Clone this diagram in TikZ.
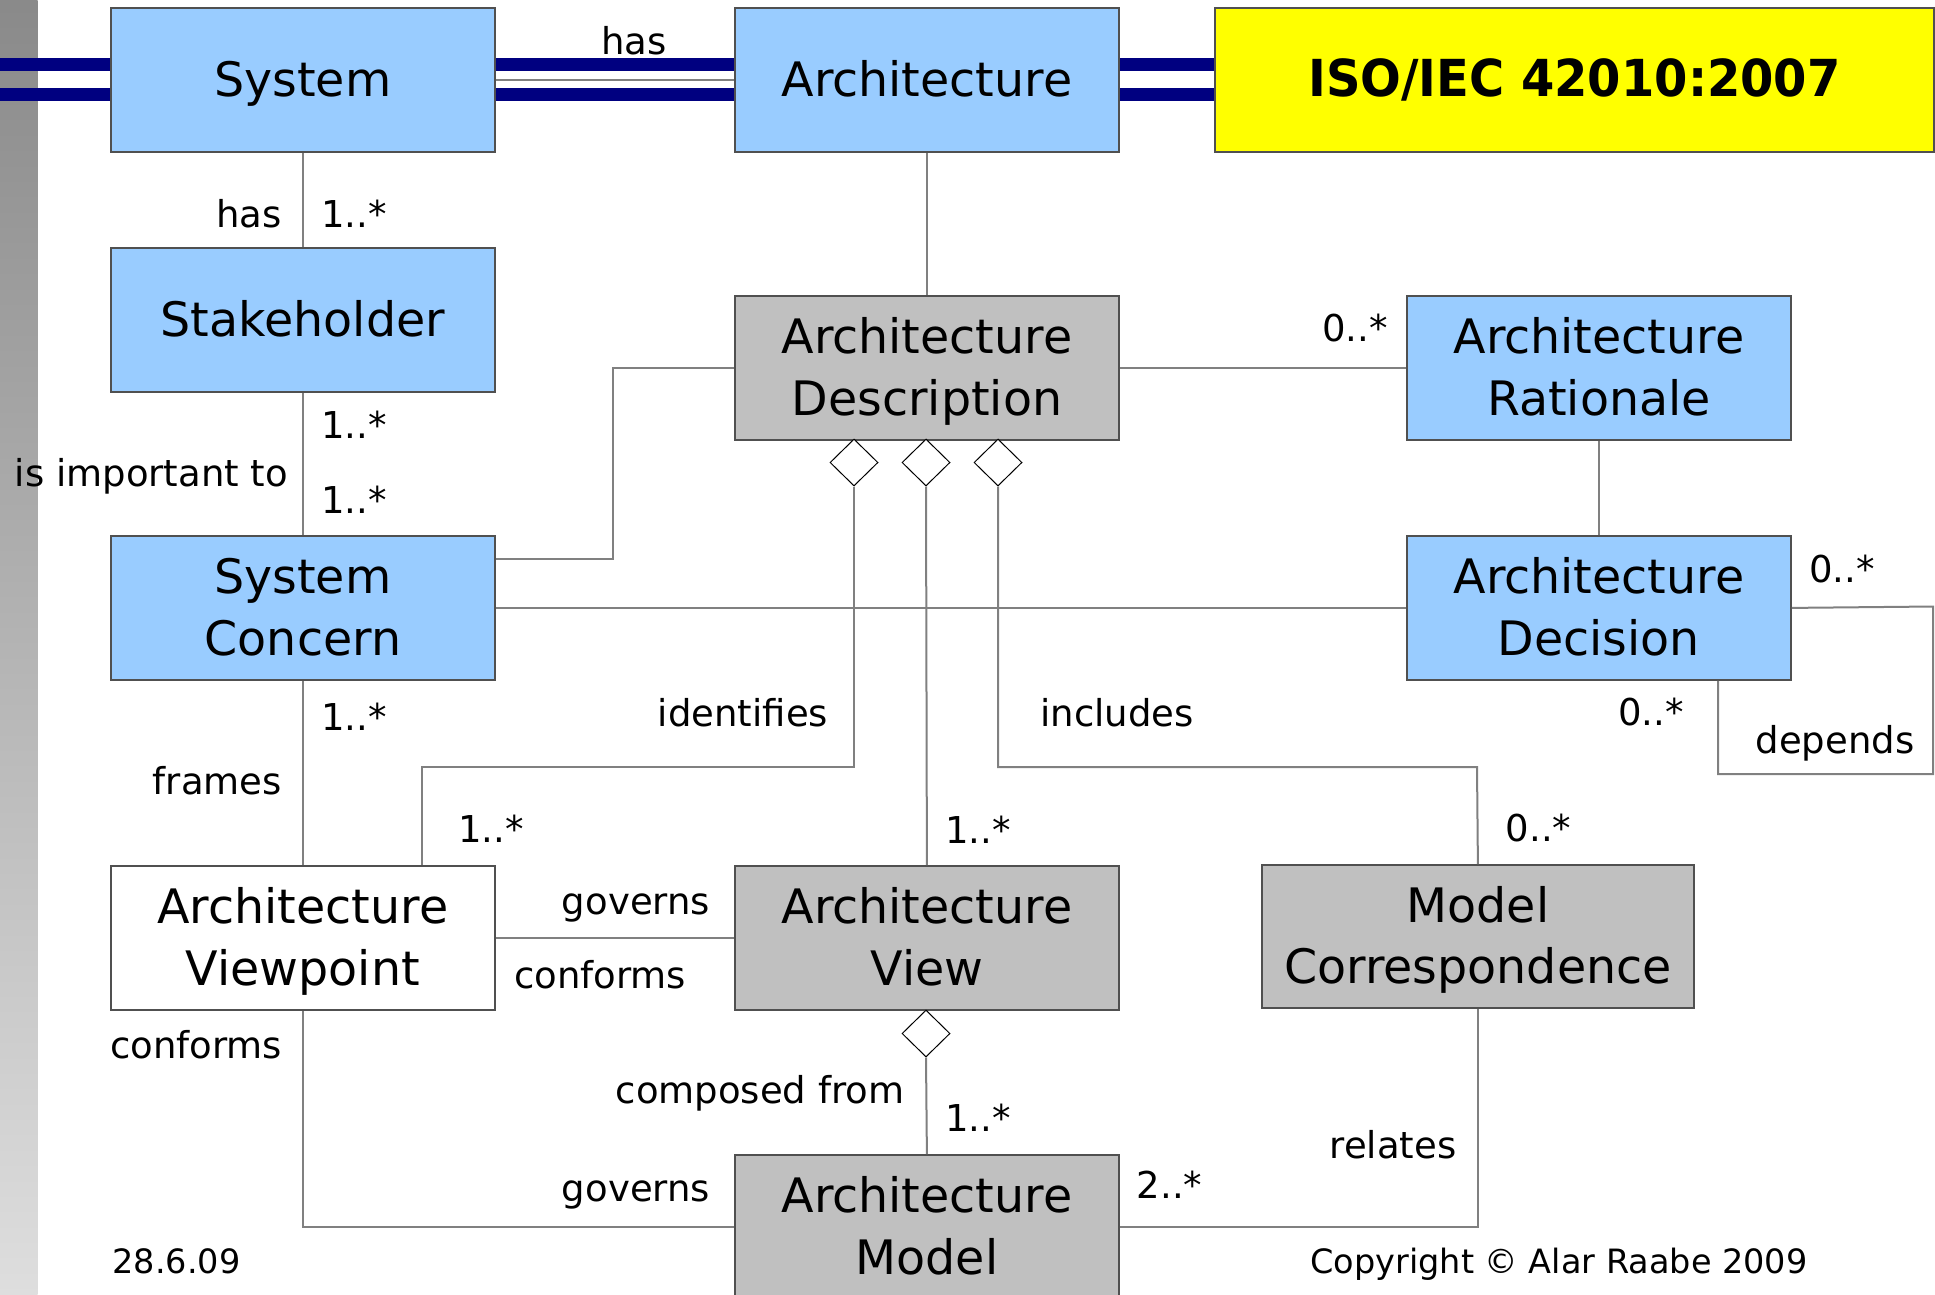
\documentclass[tikz,border=0pt]{standalone}
\usepackage{fontspec}
\usepackage{graphicx}
\setmainfont{DejaVu Sans}
\usetikzlibrary{shapes.geometric}

\definecolor{boxblue}{HTML}{99CCFF}
\definecolor{boxgray}{HTML}{C0C0C0}
\definecolor{isoyellow}{HTML}{FFFF00}
\definecolor{barnavy}{HTML}{000080}
\definecolor{edgegray}{HTML}{505050}
\definecolor{linkgray}{HTML}{808080}

% uniform line height for class names
\newcommand\clsln{\rule[-0.25em]{0pt}{1.19em}}

\tikzset{
  classbox/.style={draw=edgegray, line width=1.8pt, minimum width=384pt,
    minimum height=144pt, inner sep=0pt, align=center, anchor=north west,
    font=\fontsize{47.5}{61.5}\selectfont},
  bluebox/.style={classbox, fill=boxblue},
  graybox/.style={classbox, fill=boxgray},
  whitebox/.style={classbox, fill=white},
  isobox/.style={classbox, fill=isoyellow, minimum width=719pt},
  link/.style={draw=linkgray, line width=2pt},
  navyline/.style={draw=barnavy, line width=13pt},
  agg/.style={diamond, draw=black, fill=white, line width=1pt, inner sep=0pt,
    minimum width=48pt, minimum height=47pt, anchor=north},
  lbl/.style={inner sep=0pt, text height=0.73em, text depth=0pt,
    font=\fontsize{37}{44}\selectfont},
  foot/.style={inner sep=0pt, text height=0.73em, text depth=0pt,
    font=\fontsize{33.5}{40}\selectfont},
}

\begin{document}
\begin{tikzpicture}[x=1pt, y=-1pt]
\useasboundingbox (0,0) rectangle (1935,1294);
\clip (0,0) rectangle (1935,1294);
\fill[white] (0,0) rectangle (1935,1294);

% grey side band
\shade[top color=black!46, bottom color=black!13] (0,0) rectangle (37.5,1294);

% double navy header rule
\draw[navyline] (0,64.5) -- (1214,64.5);
\draw[navyline] (0,94.7) -- (1214,94.7);

% classes
\node[bluebox] (sys) at (110,7) {\clsln System};
\node[bluebox] (arch) at (734,7) {\clsln Architecture};
\node[isobox] (iso) at (1214,7) {\scalebox{0.94}[1]{\fontsize{51}{60}\selectfont\bfseries ISO/IEC 42010:2007}};
\node[bluebox] (stk) at (110,247) {\clsln Stakeholder};
\node[graybox] (ad) at (734,295) {\clsln Architecture\\\clsln Description};
\node[bluebox] (ar) at (1406,295) {\clsln Architecture\\\clsln Rationale};
\node[bluebox] (sc) at (110,535) {\clsln System\\\clsln Concern};
\node[bluebox] (dec) at (1406,535) {\clsln Architecture\\\clsln Decision};
\node[whitebox] (avp) at (110,865) {\clsln Architecture\\\clsln Viewpoint};
\node[graybox] (av) at (734,865) {\clsln Architecture\\\clsln View};
\node[graybox, minimum width=432pt, minimum height=143pt] (mc) at (1261,864) {\clsln Model\\\clsln Correspondence};
\node[graybox] (am) at (734,1154) {\clsln Architecture\\\clsln Model};

% aggregation diamonds
\node[agg] (d1) at (854,438.5) {};
\node[agg] (d2) at (926,438.5) {};
\node[agg] (d3) at (998,438.5) {};
\node[agg] (d4) at (926,1009.5) {};

% bend points
\coordinate (j1) at (613,559);
\coordinate (j2) at (422,767);
\coordinate (j3) at (1477,767);
\coordinate (l1) at (1933,606.5);
\coordinate (l2) at (1718,774);

% associations
\draw[link] (sys.east) -- (arch.west);
\draw[link] (sys.south) -- (stk.north);
\draw[link] (arch.south) -- (ad.north);
\draw[link] (stk.south) -- (sc.north);
\draw[link] (ad.west) -| (j1) -- (sc.east |- j1);
\draw[link] (ad.east) -- (ar.west);
\draw[link] (ar.south) -- (dec.north);
\draw[link] (sc.east) -- (dec.west);
\draw[link] (dec.east) -- (l1) |- (l2) -- (l2 |- dec.south);
\draw[link] (sc.south) -- (avp.north);
\draw[link] (d1.south) |- (j2) -- (j2 |- avp.north);
\draw[link] (d2.south) -- (av.north);
\draw[link] (d3.south) |- (j3) -- (mc.north);
\draw[link] (avp.east) -- (av.west);
\draw[link] (d4.south) -- (am.north);
\draw[link] (avp.south) |- (am.west);
\draw[link] (am.east) -| (mc.south);

% role names and multiplicities
\node[lbl] (t1) at (634,51) {has};
\node[lbl, anchor=east] (t2) at (282,223.5) {has};
\node[lbl, anchor=west] (t3) at (321,223.5) {1..*};
\node[lbl, anchor=west] (t4) at (321,434.5) {1..*};
\node[lbl] (t5) at (151.5,482.6) {is important to};
\node[lbl, anchor=west] (t6) at (321,510) {1..*};
\node[lbl, anchor=west] (t7) at (1322,338) {0..*};
\node[lbl, anchor=west] (t8) at (1809,579) {0..*};
\node[lbl, anchor=west] (t9) at (1618,722) {0..*};
\node[lbl] (t10) at (1835,750) {depends};
\node[lbl, anchor=west] (t11) at (321,727) {1..*};
\node[lbl, anchor=east] (t12) at (282,791) {frames};
\node[lbl] (t13) at (743,723) {identifies};
\node[lbl, anchor=west] (t14) at (458,839) {1..*};
\node[lbl] (t15) at (1117,723) {includes};
\node[lbl, anchor=west] (t16) at (1505.5,838) {0..*};
\node[lbl, anchor=west] (t17) at (945,840) {1..*};
\node[lbl] (t18) at (636,911) {governs};
\node[lbl] (t19) at (600,985) {conforms};
\node[lbl] (t20) at (196,1055) {conforms};
\node[lbl] (t21) at (760,1100) {composed from};
\node[lbl, anchor=west] (t22) at (945,1128) {1..*};
\node[lbl] (t23) at (636,1198) {governs};
\node[lbl, anchor=west] (t24) at (1136.5,1195) {2..*};
\node[lbl] (t25) at (1393,1155) {relates};

% footer
\node[foot] (date) at (176.5,1270) {28.6.09};
\node[foot] (copy) at (1559,1270) {Copyright © Alar Raabe 2009};
\end{tikzpicture}
\end{document}
